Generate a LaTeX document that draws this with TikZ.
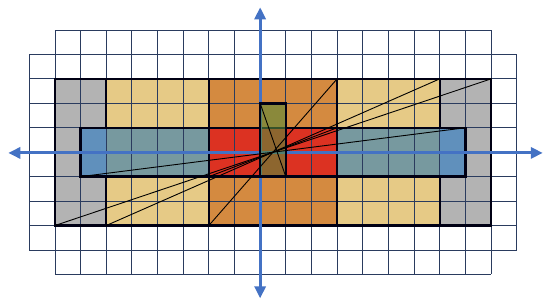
\documentclass[tikz,border=0pt]{standalone}
\usetikzlibrary{arrows.meta}
\definecolor{gridc}{HTML}{2A3B5E}
\definecolor{grayc}{HTML}{B3B3B3}
\definecolor{yelc}{HTML}{E6CA86}
\definecolor{orc}{HTML}{D48A40}
\definecolor{redc}{HTML}{DC3222}
\definecolor{bluec}{HTML}{6090BC}
\definecolor{tealc}{HTML}{77999F}
\definecolor{olivec}{HTML}{598939}
\definecolor{axisc}{HTML}{4472C4}
\begin{document}
\begin{tikzpicture}[x=1pt,y=-1pt,
  gridline/.style={draw=gridc,line width=0.9pt},
  thickbox/.style={draw=black!92!blue,line width=2.4pt,line join=miter},
  axisline/.style={draw=axisc,line width=3pt,{Triangle[length=12pt,width=11pt]}-{Triangle[length=12pt,width=11pt]}},
  diag/.style={draw=black,line width=0.9pt}]
\useasboundingbox (0,0) rectangle (550,308);
\begin{scope}[shift={(29.3,30)},x=25.65pt,y=-24.44pt]
  % fills
  \fill[grayc] (1,2) rectangle (18,8);
  \fill[yelc] (3,2) rectangle (16,8);
  \fill[orc] (7,2) rectangle (12,8);
  \fill[bluec] (2,4) rectangle (17,6);
  \fill[tealc] (3,4) rectangle (16,6);
  \fill[redc] (7,4) rectangle (12,6);
  % grid
  \foreach \c in {1,...,18} \draw[gridline] (\c,0) -- (\c,10);
  \foreach \c in {0,19} \draw[gridline] (\c,1) -- (\c,9);
  \foreach \r in {0,10} \draw[gridline] (1,\r) -- (18,\r);
  \foreach \r in {1,...,9} \draw[gridline] (0,\r) -- (19,\r);
  % borders
  \draw[thickbox] (1,2) rectangle (18,8);
  \draw[thickbox] (3,4) -- (3,2) -- (16,2) -- (16,4);
  \draw[thickbox] (3,6) -- (3,8) -- (16,8) -- (16,6);
  \draw[thickbox] (7,2) rectangle (12,8);
  \draw[thickbox] (2,4) rectangle (17,6);
  \draw[thickbox] (7,4) rectangle (12,6);
  % corner coordinates
  \coordinate (gBL) at (1,8);  \coordinate (gTR) at (18,2);
  \coordinate (yBL) at (3,8);  \coordinate (yTR) at (16,2);
  \coordinate (oBL) at (7,8);  \coordinate (oTR) at (12,2);
  \coordinate (bBL) at (2,6);  \coordinate (bTR) at (17,4);
  \coordinate (rBL) at (7,6);  \coordinate (rTR) at (12,4);
  \coordinate (vTL) at (9,3);  \coordinate (vBR) at (10,6);
  \coordinate (xL) at (-0.82,5.03); \coordinate (xR) at (20.02,5.03);
  \coordinate (yT) at (9,-0.93);    \coordinate (yB) at (9,10.98);
  % axes
  \draw[axisline] (xL) -- (xR);
  \draw[axisline] (yB) -- (yT);
  % olive rectangle
  \fill[olivec,fill opacity=0.6] (vTL) rectangle (vBR);
  \draw[thickbox] (vTL) rectangle (vBR);
  % diagonals
  \draw[diag] (gBL) -- (gTR);
  \draw[diag] (yBL) -- (yTR);
  \draw[diag] (oBL) -- (oTR);
  \draw[diag] (bBL) -- (bTR);
  \draw[diag] (rBL) -- (rTR);
  \draw[diag] (vTL) -- (vBR);
\end{scope}
\end{tikzpicture}
\end{document}
